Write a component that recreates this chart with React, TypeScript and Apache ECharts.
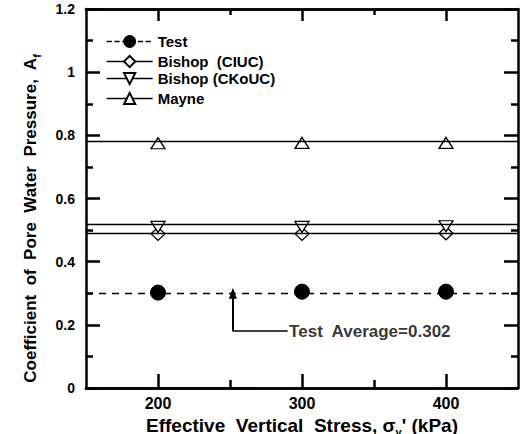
import React, { useEffect, useRef } from "react";
import * as echarts from "echarts";

// ---- data ----
const stressKPa = [200, 300, 400];
const testValues = [0.302, 0.305, 0.305];
const bishopCIUCValues = [0.488, 0.488, 0.49];
const bishopCKoUCValues = [0.51, 0.51, 0.512];
const mayneValues = [0.775, 0.776, 0.776];

const testAverage = 0.302;
const bishopCIUCLine = 0.49;
const bishopCKoUCLine = 0.515;
const mayneLine = 0.78;

const xMajorTicks = [200, 300, 400];
const xMinorTicks = [250, 350];

// annotation (data units)
const arrowX = 252;
const arrowFromY = 0.18;
const arrowToY = 0.3;
const calloutEndX = 290;
const calloutText = "Test  Average=0.302";

const FONT = "'Liberation Sans', Arial, sans-serif";

const pairs = (ys: number[]) => stressKPa.map((x, i) => [x, ys[i]]);

const axisLine = { show: true, onZero: false, lineStyle: { color: "#000", width: 2.5 } };

const mkX = (pos: string, vals: number[], len: number, labels: boolean) => ({
  type: "value",
  min: 150,
  max: 450,
  position: pos,
  splitLine: { show: false },
  axisLine,
  axisTick: { show: true, inside: true, length: len, customValues: vals, lineStyle: { color: "#000", width: 2.5 } },
  axisLabel: labels
    ? { show: true, customValues: xMajorTicks, color: "#000", fontSize: 16, fontWeight: "bold", fontFamily: FONT, margin: 7 }
    : { show: false },
});

const mkY = (pos: string, labels: boolean) => ({
  type: "value",
  min: 0,
  max: 1.2,
  interval: 0.2,
  position: pos,
  splitLine: { show: false },
  axisLine,
  axisTick: { show: true, inside: true, length: 14, lineStyle: { color: "#000", width: 2.5 } },
  minorTick: { show: true, splitNumber: 2, length: 7, lineStyle: { color: "#000", width: 2.5 } },
  axisLabel: labels
    ? { show: true, color: "#000", fontSize: 14, fontWeight: "bold", fontFamily: FONT, margin: 11 }
    : { show: false },
});

export default function App() {
  const ref = useRef<HTMLDivElement>(null);
  useEffect(() => {
    if (!ref.current) return;
    const chart = echarts.init(ref.current, undefined, { renderer: "svg" });

    const xAxes: any[] = [
      {
        ...mkX("bottom", xMajorTicks, 14, true),
        name: "{t|Effective  Vertical  Stress, σ}{s|v}{t|' (kPa)}",
        nameLocation: "middle",
        nameGap: 24,
        nameTextStyle: {
          rich: {
            t: { fontSize: 19, fontWeight: "bold", fontFamily: FONT, color: "#000", lineHeight: 22, verticalAlign: "bottom" },
            s: { fontSize: 11, fontWeight: "bold", fontFamily: FONT, color: "#000", lineHeight: 22, verticalAlign: "bottom", padding: [0, 0, -3, 0] },
          },
        },
      },
      mkX("bottom", xMinorTicks, 8, false),
      mkX("top", xMajorTicks, 12, false),
      mkX("top", xMinorTicks, 6, false),
    ];
    const yAxes: any[] = [
      {
        ...mkY("left", true),
        name: "{t|Coefficient  of  Pore  Water  Pressure,  A}{s|f}",
        nameLocation: "middle",
        nameGap: 47,
        nameTextStyle: {
          padding: [0, 40, 0, 0],
          rich: {
            t: { fontSize: 17, fontWeight: "bold", fontFamily: FONT, color: "#000", lineHeight: 20, verticalAlign: "bottom" },
            s: { fontSize: 11, fontWeight: "bold", fontFamily: FONT, color: "#000", lineHeight: 20, verticalAlign: "bottom", padding: [0, 0, -3, 0] },
          },
        },
      },
      mkY("right", false),
    ];

    const hLine = (y: number) => ({
      silent: true,
      symbol: ["none", "none"],
      label: { show: false },
      lineStyle: { color: "#000", width: 1.3, type: "solid" },
      data: [{ yAxis: y }],
    });

    const openMarker = { color: "#fff", borderColor: "#000", borderWidth: 1.3 };

    const legendBase = (name: string, top: number, dashed: boolean, ih: number) => ({
      data: [name],
      left: 106,
      top,
      padding: 0,
      itemWidth: 46,
      itemHeight: ih,
      textStyle: { color: "#000", fontSize: 15, lineHeight: 15, fontWeight: "bold", fontFamily: FONT },
      lineStyle: { color: "#000", width: 1.3, opacity: 1, type: dashed ? "dashed" : "solid" },
      selectedMode: false,
    });

    chart.setOption({
      animation: false,
      grid: { left: 86, right: 5, top: 9, bottom: 46, outerBoundsMode: "none", containLabel: false },
      xAxis: xAxes,
      yAxis: yAxes,
      legend: [
        legendBase("Test", 34, true, 16),
        legendBase("Bishop  (CIUC)", 54, false, 14),
        legendBase("Bishop (CKoUC)", 71, false, 14),
        legendBase("Mayne", 91, false, 14),
      ],
      series: [
        {
          name: "Test",
          type: "line",
          data: pairs(testValues),
          symbol: "circle",
          symbolSize: 15,
          itemStyle: { color: "#000", borderColor: "#000" },
          lineStyle: { opacity: 0, type: "dashed", color: "#000" },
          markLine: {
            silent: true,
            label: { show: false },
            symbol: ["none", "none"],
            data: [
              { yAxis: testAverage, lineStyle: { color: "#000", width: 1.4, type: [7, 6] } },
              [
                { coord: [arrowX, arrowFromY], symbol: "none", lineStyle: { color: "#000", width: 2, type: "solid" } },
                { coord: [arrowX, arrowToY], symbol: "triangle", symbolSize: [8, 11] },
              ],
              [
                { coord: [arrowX, arrowFromY], symbol: "none", lineStyle: { color: "#000", width: 1.5, type: "solid" } },
                { coord: [calloutEndX, arrowFromY], symbol: "none" },
              ],
            ],
          },
        },
        {
          name: "Bishop  (CIUC)",
          type: "line",
          data: pairs(bishopCIUCValues),
          symbol: "diamond",
          symbolSize: [14, 13],
          itemStyle: openMarker,
          lineStyle: { opacity: 0, color: "#000" },
          markLine: hLine(bishopCIUCLine),
          z: 3,
        },
        {
          name: "Bishop (CKoUC)",
          type: "line",
          data: pairs(bishopCKoUCValues),
          symbol: "triangle",
          symbolRotate: 180,
          symbolSize: [14, 11],
          itemStyle: openMarker,
          lineStyle: { opacity: 0, color: "#000" },
          markLine: hLine(bishopCKoUCLine),
          z: 3,
        },
        {
          name: "Mayne",
          type: "line",
          data: pairs(mayneValues),
          symbol: "triangle",
          symbolSize: [14, 11],
          itemStyle: openMarker,
          lineStyle: { opacity: 0, color: "#000" },
          markLine: hLine(mayneLine),
          z: 3,
        },
        {
          type: "scatter",
          data: [[calloutEndX, arrowFromY]],
          symbolSize: 1,
          itemStyle: { color: "transparent" },
          silent: true,
          label: {
            show: true,
            position: "right",
            distance: 1,
            formatter: calloutText,
            color: "#000",
            fontSize: 17,
            fontWeight: "bold",
            fontFamily: FONT,
          },
        },
      ],
    });
    return () => chart.dispose();
  }, []);
  return <div ref={ref} style={{ width: 523, height: 434, position: "absolute", left: 0, top: 0 }} />;
}
